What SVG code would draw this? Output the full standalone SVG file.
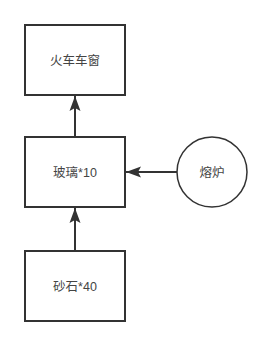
<svg xmlns="http://www.w3.org/2000/svg" width="272" height="346" viewBox="0 0 272 346">
<style>
.box{fill:#fff;stroke:#333;stroke-width:2}
.circ{fill:#fff;stroke:#333;stroke-width:1.5}
.edge{fill:none;stroke:#333;stroke-width:2}
.lbl{font-family:"Liberation Sans","Noto Sans CJK SC",sans-serif;font-size:12.5px;fill:#444;text-anchor:middle;dominant-baseline:central}
</style>
<defs>
<marker id="arr" markerUnits="userSpaceOnUse" markerWidth="15" markerHeight="12" refX="15" refY="6" orient="auto">
<path d="M0,0.5 L15,6 L0,11.5 L3,6 Z" fill="#333"/>
</marker>
</defs>
<rect width="272" height="346" fill="#fff"/>
<g id="connectors">
<path class="edge" d="M75,137 L75,96" marker-end="url(#arr)"/>
<path class="edge" d="M75,250 L75,208" marker-end="url(#arr)"/>
<path class="edge" d="M177,172 L126,172" marker-end="url(#arr)"/>
</g>
<g id="window">
<rect class="box" x="25" y="25" width="100" height="70"/>
<text class="lbl" x="75" y="61">火车车窗</text>
</g>
<g id="glass">
<rect class="box" x="25" y="137" width="100" height="70"/>
<text class="lbl" x="75" y="173">玻璃*10</text>
</g>
<g id="sand">
<rect class="box" x="25" y="251" width="100" height="70"/>
<text class="lbl" x="75" y="287">砂石*40</text>
</g>
<g id="furnace">
<circle class="circ" cx="212" cy="172" r="35"/>
<text class="lbl" x="212" y="173">熔炉</text>
</g>
</svg>
